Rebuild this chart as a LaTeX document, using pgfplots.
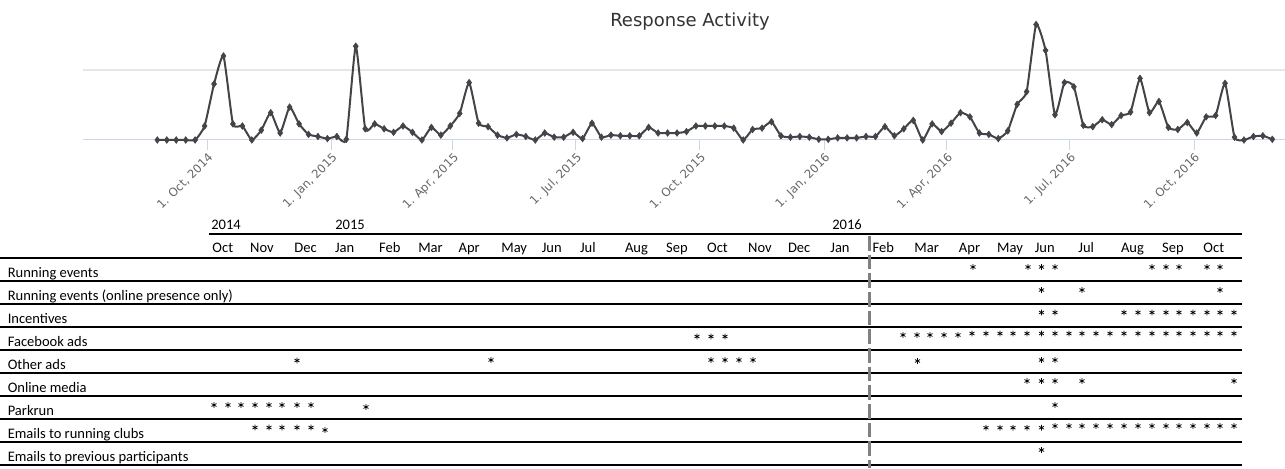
\documentclass[border=0pt]{standalone}
\usepackage{pgfplots}
\pgfplotsset{compat=1.18}
\usepackage{fontspec}
\setmainfont{Carlito}
\newfontfamily\dejavu{DejaVu Sans}
\definecolor{linegrey}{HTML}{434348}
\definecolor{gridgrey}{HTML}{E6E6E6}
\definecolor{axisblue}{HTML}{CCD6EB}
\definecolor{labelgrey}{HTML}{666666}
\definecolor{titlegrey}{HTML}{333333}
\definecolor{dashgrey}{HTML}{808080}
\pgfplotsset{star/.style={only marks, mark=asterisk, mark size=2.2pt, black, mark options={line width=0.55pt}}}
\tikzset{tabtxt/.style={font=\fontsize{10.9}{12}\selectfont, inner sep=0pt}}
\begin{document}
\begin{tikzpicture}
\path[use as bounding box] (0,0) rectangle (963.75pt,351pt);
% ---------------- table (pixel coordinates) ----------------
\begin{axis}[at={(0pt,0pt)}, anchor=south west, scale only axis,
  width=963.75pt, height=351pt, xmin=0, xmax=1285, ymin=0, ymax=468,
  y dir=reverse, hide axis, clip=false]
% title
\node[anchor=base, font=\dejavu\fontsize{13.5}{15}\selectfont, text=titlegrey] at (axis cs:690,26) {Response Activity};
% rules
\draw[line width=1.3pt] (axis cs:209,234) -- (axis cs:1241.7,234);
\pgfplotsinvokeforeach{258.3,281,304,326.7,350,372.7,396,419,441.7,465}{
  \draw[line width=1.3pt] (axis cs:0,#1) -- (axis cs:1241.7,#1);
}
\draw[dashgrey, line width=2pt, dash pattern=on 11pt off 3pt] (axis cs:869.3,236) -- (axis cs:869.3,468);
% years
\node[anchor=base west, tabtxt] at (axis cs:211,229) {2014};
\node[anchor=base west, tabtxt] at (axis cs:335,229) {2015};
\node[anchor=base west, tabtxt] at (axis cs:832,229) {2016};
% months
\node[anchor=base, tabtxt] at (axis cs:222.8,252.5) {Oct};
\node[anchor=base, tabtxt] at (axis cs:262,252.5) {Nov};
\node[anchor=base, tabtxt] at (axis cs:305.5,252.5) {Dec};
\node[anchor=base, tabtxt] at (axis cs:344.7,252.5) {Jan};
\node[anchor=base, tabtxt] at (axis cs:389.8,252.5) {Feb};
\node[anchor=base, tabtxt] at (axis cs:430.5,252.5) {Mar};
\node[anchor=base, tabtxt] at (axis cs:469.2,252.5) {Apr};
\node[anchor=base, tabtxt] at (axis cs:514.2,252.5) {May};
\node[anchor=base, tabtxt] at (axis cs:551.7,252.5) {Jun};
\node[anchor=base, tabtxt] at (axis cs:587.8,252.5) {Jul};
\node[anchor=base, tabtxt] at (axis cs:636.5,252.5) {Aug};
\node[anchor=base, tabtxt] at (axis cs:677,252.5) {Sep};
\node[anchor=base, tabtxt] at (axis cs:717.5,252.5) {Oct};
\node[anchor=base, tabtxt] at (axis cs:760,252.5) {Nov};
\node[anchor=base, tabtxt] at (axis cs:799.2,252.5) {Dec};
\node[anchor=base, tabtxt] at (axis cs:840,252.5) {Jan};
\node[anchor=base, tabtxt] at (axis cs:883.3,252.5) {Feb};
\node[anchor=base, tabtxt] at (axis cs:926.7,252.5) {Mar};
\node[anchor=base, tabtxt] at (axis cs:969.5,252.5) {Apr};
\node[anchor=base, tabtxt] at (axis cs:1010,252.5) {May};
\node[anchor=base, tabtxt] at (axis cs:1044.8,252.5) {Jun};
\node[anchor=base, tabtxt] at (axis cs:1086.2,252.5) {Jul};
\node[anchor=base, tabtxt] at (axis cs:1132.5,252.5) {Aug};
\node[anchor=base, tabtxt] at (axis cs:1173,252.5) {Sep};
\node[anchor=base, tabtxt] at (axis cs:1213.8,252.5) {Oct};
% row labels
\node[anchor=base west, tabtxt] at (axis cs:7.5,277.5) {Running events};
\node[anchor=base west, tabtxt] at (axis cs:7.5,300.5) {Running events (online presence only)};
\node[anchor=base west, tabtxt] at (axis cs:7.5,323) {Incentives};
\node[anchor=base west, tabtxt] at (axis cs:7.5,346.5) {Facebook ads};
\node[anchor=base west, tabtxt] at (axis cs:7.5,369) {Other ads};
\node[anchor=base west, tabtxt] at (axis cs:7.5,392.5) {Online media};
\node[anchor=base west, tabtxt] at (axis cs:7.5,415.5) {Parkrun};
\node[anchor=base west, tabtxt] at (axis cs:7.5,438) {Emails to running clubs};
\node[anchor=base west, tabtxt] at (axis cs:7.5,461.5) {Emails to previous participants};
% asterisks (campaign activity)
% Running events
\addplot[star] coordinates {(973,267)(1028,267)(1041.5,267)(1055,267)(1152,267)(1166,267)(1179,267)(1207,267)(1220,267)};
% Running events (online presence only)
\addplot[star] coordinates {(1041.5,290)(1082,290)(1220,290)};
% Incentives
\addplot[star] coordinates {(1041.5,312.5)(1055,312.5)(1124,312.5)(1138,312.5)(1152,312.5)(1166,312.5)(1179,312.5)(1193,312.5)(1207,312.5)(1220,312.5)(1234,312.5)};
% Facebook ads
\addplot[star] coordinates {(697,336.5)(711,336.5)(725,336.5)
 (903,335)(917,335)(930,335)(944,335)(958,335)
 (972,333.5)(986,333.5)(1000,333.5)(1013,333.5)(1027,333.5)(1041.5,333.5)(1055,333.5)(1069,333.5)(1082,333.5)(1096,333.5)(1110,333.5)(1124,333.5)(1138,333.5)(1152,333.5)(1166,333.5)(1179,333.5)(1193,333.5)(1207,333.5)(1220,333.5)(1234,333.5)};
% Other ads
\addplot[star] coordinates {(297,360.5)(491,360)(711,360)(725,360)(739,360)(753,360)(917.5,361)(1041.5,360)(1055,360)};
% Online media
\addplot[star] coordinates {(1027,381)(1041.5,381)(1055,381)(1082,381)(1234,381)};
% Parkrun
\addplot[star] coordinates {(214,405)(228,405)(241,405)(255,405)(269,405)(282,405)(297,405)(311,405)(366,407)(1055,405)};
% Emails to running clubs
\addplot[star] coordinates {(255,427.5)(269,427.5)(282,427.5)(297,427.5)(311,427.5)(325,430)
 (986,427.7)(1000,427.7)(1013,427.7)(1027,427.7)(1041.5,427.7)
 (1055,426)(1069,426)(1082,426)(1096,426)(1110,426)(1124,426)(1138,426)(1152,426)(1166,426)(1179,426)(1193,426)(1207,426)(1220,426)(1234,426)};
% Emails to previous participants
\addplot[star] coordinates {(1041.5,450)};
\end{axis}
% ---------------- response activity chart ----------------
\begin{axis}[at={(62.33pt,246pt)}, anchor=south west, scale only axis,
  width=901.4pt, height=105pt, xmin=0, xmax=890.4, ymin=0, ymax=20,
  clip=false,
  axis x line*=bottom, axis y line*=left,
  x axis line style={draw=axisblue, line width=0.75pt},
  y axis line style={draw=none},
  ytick={10}, yticklabels={}, ytick style={draw=none},
  ymajorgrids, grid style={draw=gridgrey, line width=0.9pt},
  xtick={92,184,274,365,457,549,640,731,823},
  xticklabels={{1. Oct, 2014},{1. Jan, 2015},{1. Apr, 2015},{1. Jul, 2015},{1. Oct, 2015},{1. Jan, 2016},{1. Apr, 2016},{1. Jul, 2016},{1. Oct, 2016}},
  tick align=outside, major tick length=7.5pt,
  xtick style={draw=axisblue, line width=0.75pt},
  xticklabel style={rotate=45, anchor=north east, inner sep=1pt, text=labelgrey, font=\dejavu\fontsize{8.7}{9.5}\selectfont},
  ]
\addplot[linegrey, line width=1.5pt, smooth, tension=0.3, mark=diamond*, mark size=2.5pt,
  mark options={fill=linegrey, draw=linegrey, line width=0.4pt}] coordinates {
(55,0)(62,0)(69,0)(76,0)(83,0)(90,2.0)(97,8.0)(104,12.0)(111,2.3)(118,2.0)
(125,0)(132,1.4)(139,3.9)(146,1.0)(153,4.7)(160,2.3)(167,0.8)(174,0.5)(181,0.2)(188,0.5)
(195,0.1)(202,13.4)(209,1.6)(216,2.3)(223,1.6)(230,1.1)(237,2.0)(244,1.1)(251,0)(258,1.8)
(265,0.7)(272,2.0)(279,3.8)(286,8.2)(293,2.4)(300,1.9)(307,0.7)(314,0.3)(321,0.8)(328,0.5)
(335,0)(342,1.0)(349,0.4)(356,0.4)(363,1.1)(370,0.2)(377,2.4)(384,0.4)(391,0.7)(398,0.6)
(405,0.6)(412,0.6)(419,1.8)(426,1.0)(433,1.0)(440,1.0)(447,1.2)(454,2.0)(461,2.0)(468,2.0)
(475,2.0)(482,1.7)(489,0)(496,1.5)(503,1.7)(510,2.6)(517,0.6)(524,0.4)(531,0.5)(538,0.4)
(545,0.1)(552,0.1)(559,0.3)(566,0.3)(573,0.3)(580,0.5)(587,0.5)(594,1.9)(601,0.6)(608,1.6)
(615,2.8)(622,0)(629,2.3)(636,1.2)(643,2.4)(650,3.9)(657,3.3)(664,1.0)(671,0.8)(678,0.2)
(685,1.3)(692,5.1)(699,6.9)(706,16.5)(713,12.8)(720,3.6)(727,8.2)(734,7.6)(741,2.1)(748,1.9)
(755,2.9)(762,2.2)(769,3.5)(776,4.0)(783,8.8)(790,3.9)(797,5.5)(804,1.8)(811,1.5)(818,2.5)
(825,1.0)(832,3.3)(839,3.5)(846,8.1)(853,0.4)(860,0)(867,0.5)(874,0.6)(881,0.1)
};
\end{axis}
\end{tikzpicture}
\end{document}
